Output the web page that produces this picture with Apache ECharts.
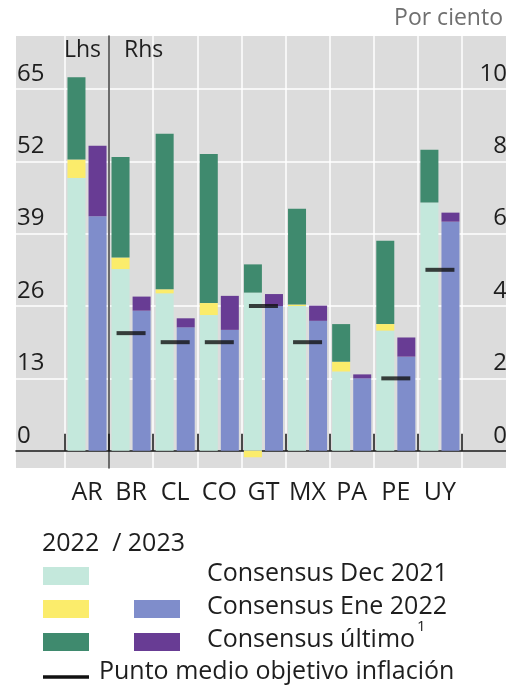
<!DOCTYPE html>
<html>
<head>
<meta charset="utf-8">
<script src="https://cdn.jsdelivr.net/npm/echarts@6/dist/echarts.min.js"></script>
<style>
  html, body { margin: 0; padding: 0; background: #fff; }
  #chart { width: 506px; height: 691px; }
</style>
</head>
<body>
<div id="chart"></div>
<script>
// data (AR on Lhs scale, the rest on Rhs scale)
var categories = ['AR', 'BR', 'CL', 'CO', 'GT', 'MX', 'PA', 'PE', 'UY'];
var dec2021_2022 = [49.0, 5.02, 4.35, 3.75, 4.37, 4.0, 2.19, 3.32, 6.86];
var ene2022_2022 = [52.3, 5.34, 4.46, 4.08, 4.19, 4.04, 2.46, 3.5, 6.86];
var ultimo_2022 = [67.1, 8.12, 8.76, 8.2, 4.97, 6.69, 3.5, 5.8, 8.32];
var ene2022_2023 = [42.1, 3.87, 3.41, 3.34, 4.0, 3.59, 2.0, 2.6, 6.33];
var ultimo_2023 = [54.8, 4.26, 3.66, 4.28, 4.33, 4.01, 2.11, 3.13, 6.58];
var targetMid = [null, 3.25, 3, 3, 4, 3, null, 2, 5];
var lhsTicks = [0, 13, 26, 39, 52, 65];
var rhsTicks = [0, 2, 4, 6, 8, 10];

var FONT = 'Open Sans';
var C = {
  bg: '#dcdcdc', mint: '#c4e8dc', yellow: '#fbec6b', green: '#3f8a6e',
  blue: '#7f8dcb', purple: '#683c94', text: '#1e1e1e'
};

// axis ranges: Lhs 65 lines up with Rhs 10
var lhsMin = -3.1, lhsMax = 74.5;
var rhsMin = lhsMin / 6.5, rhsMax = lhsMax / 6.5;

function diff(a, b) {
  return a.map(function (v, i) { return +(v - b[i]).toFixed(3); });
}
var yellowSeg = diff(ene2022_2022, dec2021_2022);
var greenSeg = diff(ultimo_2022, ene2022_2022);
var purpleSeg = diff(ultimo_2023, ene2022_2023);

function barSeries(name, data, color, stack, gridNo) {
  return {
    name: name, type: 'bar', stack: stack + '_' + gridNo,
    xAxisIndex: gridNo, yAxisIndex: gridNo + 1,
    data: data, barWidth: 18, barGap: '17%',
    itemStyle: { color: color }, silent: true
  };
}

function makeBars(from, to, gridNo) {
  return [
    barSeries('Dec 2021', dec2021_2022.slice(from, to), C.mint, 'y2022', gridNo),
    barSeries('Ene 2022', yellowSeg.slice(from, to), C.yellow, 'y2022', gridNo),
    barSeries('Último', greenSeg.slice(from, to), C.green, 'y2022', gridNo),
    barSeries('Ene 2022 (2023)', ene2022_2023.slice(from, to), C.blue, 'y2023', gridNo),
    barSeries('Último (2023)', purpleSeg.slice(from, to), C.purple, 'y2023', gridNo)
  ];
}

var catAxis = function (gridNo, data) {
  return {
    type: 'category', gridIndex: gridNo, data: data,
    axisLine: { show: false },
    axisTick: { show: true, inside: true, length: 17, interval: 0, lineStyle: { color: '#111', width: 1.5 } },
    axisLabel: { interval: 0, color: C.text, fontSize: 25, fontFamily: FONT, margin: 12 },
    splitLine: { show: true, interval: 0, lineStyle: { color: '#fff', width: 1.5 } }
  };
};

var series = [].concat(
  makeBars(0, 1, 1),
  makeBars(1, 9, 2),
  [{
    name: 'Punto medio', type: 'scatter', xAxisIndex: 2, yAxisIndex: 3,
    data: targetMid.slice(1), symbol: 'rect', symbolSize: [29, 4],
    itemStyle: { color: '#111' }, z: 5, silent: true
  }]
);

// legend drawn by hand (two swatch columns sharing labels)
var legendRows = [
  { y: 576, left: C.mint, right: null, label: 'Consensus Dec 2021' },
  { y: 609, left: C.yellow, right: C.blue, label: 'Consensus Ene 2022' },
  { y: 642, left: C.green, right: C.purple, label: 'Consensus último' }
];
var graphics = [
  { type: 'text', x: 503, y: 18, style: { text: 'Por ciento', fill: '#6f6f6f', font: '23px "Open Sans"', align: 'right', verticalAlign: 'middle' } },
  { type: 'text', x: 64, y: 50, style: { text: 'Lhs', fill: C.text, font: '23px "Open Sans"', verticalAlign: 'middle' }, z: 10 },
  { type: 'text', x: 124, y: 50, style: { text: 'Rhs', fill: C.text, font: '23px "Open Sans"', verticalAlign: 'middle' }, z: 10 },
  { type: 'text', x: 42, y: 544, style: { text: '2022  / 2023', fill: C.text, font: '25px "Open Sans"', verticalAlign: 'middle' } }
];
legendRows.forEach(function (r) {
  graphics.push({ type: 'rect', shape: { x: 43, y: r.y - 9, width: 46, height: 18 }, style: { fill: r.left } });
  if (r.right) {
    graphics.push({ type: 'rect', shape: { x: 134, y: r.y - 9, width: 46, height: 18 }, style: { fill: r.right } });
  }
  graphics.push({
    type: 'text', x: 207, y: r.y - 2,
    style: { text: r.label, fill: C.text, font: '25px "Open Sans"', verticalAlign: 'middle' }
  });
});
// footnote mark after "último"
graphics.push({ type: 'text', x: 417, y: 627, style: { text: '1', fill: C.text, font: '15px "Open Sans"', verticalAlign: 'middle' } });
graphics.push({ type: 'line', shape: { x1: 43, y1: 677, x2: 89, y2: 677 }, style: { stroke: '#111', lineWidth: 3.5 } });
graphics.push({ type: 'text', x: 99, y: 672, style: { text: 'Punto medio objetivo inflación', fill: C.text, font: '25px "Open Sans"', verticalAlign: 'middle' } });

var chart = echarts.init(document.getElementById('chart'), null, { renderer: 'canvas' });
chart.setOption({
  animation: false,
  textStyle: { fontFamily: FONT },
  grid: [
    { left: 16, right: 0, top: 36, height: 432, show: true, backgroundColor: C.bg, borderWidth: 0, outerBoundsMode: 'none' },
    { left: 65, width: 44, top: 36, height: 432, outerBoundsMode: 'none' },
    { left: 109, right: 44, top: 36, height: 432, outerBoundsMode: 'none' }
  ],
  xAxis: [
    {
      type: 'value', gridIndex: 0, min: 0, max: 1,
      axisLine: { show: true, onZero: true, lineStyle: { color: '#111', width: 1.5 } },
      axisTick: { show: false }, axisLabel: { show: false }, splitLine: { show: false }
    },
    catAxis(1, categories.slice(0, 1)),
    catAxis(2, categories.slice(1))
  ],
  yAxis: [
    {
      type: 'value', gridIndex: 0, position: 'left', min: lhsMin, max: lhsMax,
      axisLine: { show: false },
      axisTick: { show: false, customValues: lhsTicks },
      axisLabel: { inside: true, margin: 1, customValues: lhsTicks, color: C.text, fontSize: 24, fontFamily: FONT, verticalAlign: 'bottom', padding: [0, 0, 3, 0] },
      splitLine: { show: true, lineStyle: { color: '#fff', width: 1.5 } }
    },
    {
      type: 'value', gridIndex: 0, position: 'right', min: rhsMin, max: rhsMax,
      axisLine: { show: false },
      axisTick: { show: false, customValues: rhsTicks },
      axisLabel: { inside: true, margin: -1, customValues: rhsTicks, color: C.text, fontSize: 24, fontFamily: FONT, verticalAlign: 'bottom', padding: [0, 0, 3, 0] },
      splitLine: { show: false }
    },
    { type: 'value', gridIndex: 1, min: lhsMin, max: lhsMax, show: false },
    {
      type: 'value', gridIndex: 2, position: 'left', min: rhsMin, max: rhsMax,
      axisLine: { show: true, lineStyle: { color: '#3a3a3a', width: 1.5 } },
      axisTick: { show: false }, axisLabel: { show: false }, splitLine: { show: false }
    }
  ],
  graphic: graphics,
  series: series
});
</script>
</body>
</html>
